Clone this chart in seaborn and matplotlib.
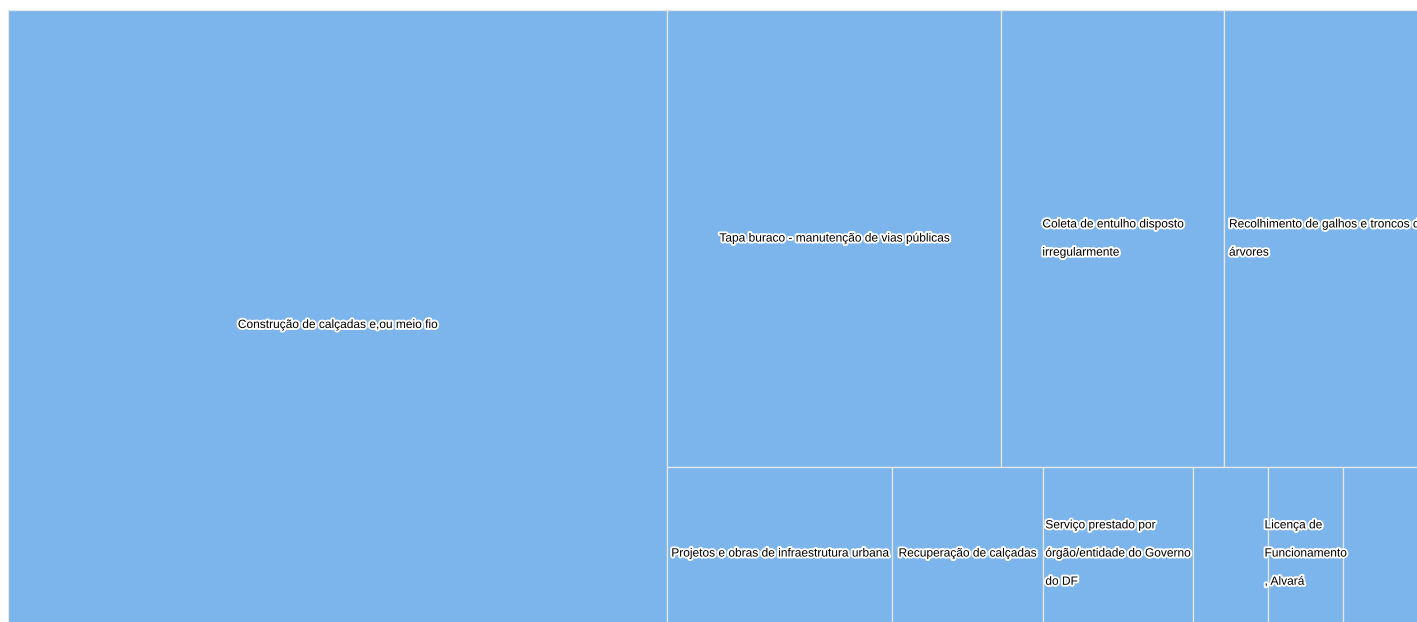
import matplotlib
matplotlib.use("Agg")
import matplotlib.pyplot as plt
import matplotlib.patheffects as pe
import seaborn as sns

# dados do treemap (contagem de demandas por assunto)
labels = [
    "Construção de calçadas e,ou meio fio",
    "Tapa buraco - manutenção de vias públicas",
    "Coleta de entulho disposto\nirregularmente",
    "Recolhimento de galhos e troncos de\nárvores",
    "Projetos e obras de infraestrutura urbana",
    "Recuperação de calçadas",
    "Serviço prestado por\nórgão/entidade do Governo\ndo DF",
    "",
    "Licença de\nFuncionamento\n, Alvará",
    "",
]
values = [415, 153, 102, 94, 39, 26, 26, 13, 13, 15]
# faixas do layout: (quantidade de itens, direção) - "v" coluna, "h" linha
strips = [(1, "v"), (3, "h"), (6, "h")]

sns.set_style("white")
plt.rcParams["font.family"] = ["Liberation Sans", "DejaVu Sans"]


def strip_layout(vals, groups, x0, y0, w, h):
    unit = w * h / sum(vals)
    rects = []
    i = 0
    for n, d in groups:
        chunk = vals[i:i + n]
        area = sum(chunk) * unit
        if d == "v":
            sw = area / h
            yy = y0
            for v in chunk:
                rh = v * unit / sw
                rects.append((x0, yy, sw, rh))
                yy += rh
            x0 += sw
            w -= sw
        else:
            sh = area / w
            xx = x0
            for v in chunk:
                rw = v * unit / sh
                rects.append((xx, y0, rw, sh))
                xx += rw
            y0 += sh
            h -= sh
        i += n
    return rects


W, H = 1422, 630
rects = strip_layout(values, strips, 0, 0, W, H)

fig = plt.figure(figsize=(14.17, 6.22), dpi=100)
ax = fig.add_axes([8 / 1417, 0, 1409 / 1417, 612 / 622])

xs = [r[0] for r in rects]
ys = [r[1] for r in rects]
ws = [r[2] for r in rects]
hs = [r[3] for r in rects]
ax.bar(xs, hs, width=ws, bottom=ys, align="edge", color="#7cb5ec",
       edgecolor="#e6e6e6", linewidth=0.9)

for (x, y, w, h), lab in zip(rects, labels):
    if not lab:
        continue
    ax.text(x + w / 2, y + h / 2, lab, ha="center", va="center",
            multialignment="left", fontsize=8.6, color="black",
            linespacing=2.8, clip_on=True,
            path_effects=[pe.withStroke(linewidth=2.8, foreground="white")])

ax.set_xlim(0, 1409)
ax.set_ylim(612, 0)
ax.set_xticks([])
ax.set_yticks([])
sns.despine(ax=ax, left=True, bottom=True)

fig.savefig("out.png", dpi=100)
